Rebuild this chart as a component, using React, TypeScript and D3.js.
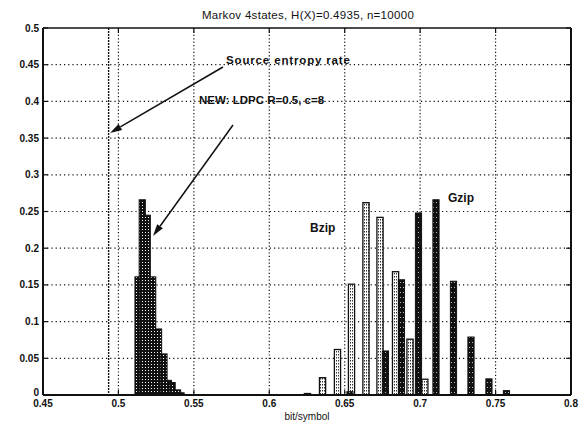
import React from "react";
import * as d3 from "d3";

const W = 582;
const H = 425;
const M = { left: 43, right: 571, top: 28, bottom: 395 };

const title = "Markov 4states, H(X)=0.4935, n=10000";
const xLabel = "bit/symbol";
const xTicks = [0.45, 0.5, 0.55, 0.6, 0.65, 0.7, 0.75, 0.8];
const xTickLabels = ["0.45", "0.5", "0.55", "0.6", "0.65", "0.7", "0.75", "0.8"];
const yTicks = [0, 0.05, 0.1, 0.15, 0.2, 0.25, 0.3, 0.35, 0.4, 0.45, 0.5];
const yTickLabels = ["0", "0.05", "0.1", "0.15", "0.2", "0.25", "0.3", "0.35", "0.4", "0.45", "0.5"];
const entropyRate = 0.4935;

const ldpcX = [0.513, 0.5158, 0.5191, 0.5227, 0.5266, 0.5302, 0.5331, 0.5356, 0.5392, 0.5415];
const ldpcY = [0.161, 0.266, 0.245, 0.161, 0.09, 0.056, 0.02, 0.017, 0.007, 0.003];

const bzipX = [0.6253, 0.6353, 0.6452, 0.6545, 0.6641, 0.6734, 0.6837, 0.6933, 0.7031];
const bzipY = [0.002, 0.0236, 0.062, 0.151, 0.262, 0.242, 0.168, 0.076, 0.0215];

const gzipX = [0.6535, 0.677, 0.6876, 0.6989, 0.7105, 0.7221, 0.7337, 0.7456, 0.7572];
const gzipY = [0.0045, 0.06, 0.157, 0.248, 0.266, 0.155, 0.079, 0.022, 0.006];

const annotations = [
  { text: "Source entropy rate", x: 226, y: 64, fromX: 223, fromY: 67, toX: 110, toY: 133, ls: 0.85 },
  { text: "NEW: LDPC R=0.5, c=8", x: 199, y: 104, fromX: 233, fromY: 125, toX: 153, toY: 236, ls: 0 },
];
const seriesLabels = [
  { text: "Bzip", x: 310, y: 232 },
  { text: "Gzip", x: 448, y: 202 },
];

const font = "'Liberation Sans', Arial, Helvetica, sans-serif";

export default function App() {
  const x = d3.scaleLinear().domain([0.45, 0.8]).range([M.left, M.right]);
  const y = d3.scaleLinear().domain([0, 0.5]).range([M.bottom, M.top]);
  const bw = 0.0041;

  const bars = (
    xs: number[],
    ys: number[],
    fill: string,
    sw: number,
    key: string
  ) =>
    xs.map((v, i) => {
      const x0 = x(v - bw / 2);
      const x1 = x(v + bw / 2);
      const yt = y(ys[i]);
      return (
        <rect
          key={key + i}
          x={x0}
          y={yt}
          width={x1 - x0}
          height={Math.max(0.8, y(0) - yt)}
          fill={fill}
          stroke="#111"
          strokeWidth={sw}
        />
      );
    });

  const arrow = (a: typeof annotations[0], i: number) => {
    const dx = a.toX - a.fromX;
    const dy = a.toY - a.fromY;
    const len = Math.hypot(dx, dy);
    const ux = dx / len;
    const uy = dy / len;
    const hl = 12;
    const hw = 3.5;
    const bx = a.toX - ux * hl;
    const by = a.toY - uy * hl;
    const p1 = [bx - uy * hw, by + ux * hw];
    const p2 = [bx + uy * hw, by - ux * hw];
    return (
      <g key={"ar" + i}>
        <line x1={a.fromX} y1={a.fromY} x2={bx} y2={by} stroke="#111" strokeWidth={1.5} />
        <polygon points={`${a.toX},${a.toY} ${p1[0]},${p1[1]} ${p2[0]},${p2[1]}`} fill="#111" />
        <text
          x={a.x}
          y={a.y}
          fontFamily={font}
          fontSize={11.5}
          fontWeight="bold"
          letterSpacing={a.ls}
          fill="#111"
        >
          {a.text}
        </text>
      </g>
    );
  };

  return (
    <svg
      width={W}
      height={H}
      viewBox={`0 0 ${W} ${H}`}
      style={{ position: "absolute", left: 0, top: 0, background: "#fff" }}
    >
      <defs>
        <pattern id="pLdpc" width="3" height="3" patternUnits="userSpaceOnUse">
          <rect width="3" height="3" fill="#111" />
          <rect x="1" y="1" width="1" height="1" fill="#fff" />
        </pattern>
        <pattern id="pBzip" width="2" height="3" patternUnits="userSpaceOnUse">
          <rect width="2" height="3" fill="#fff" />
          <rect x="0" y="0" width="1" height="1.5" fill="#333" />
        </pattern>
        <pattern id="pGzip" width="3" height="5" patternUnits="userSpaceOnUse">
          <rect width="3" height="5" fill="#111" />
          <rect x="1" y="2" width="1" height="1" fill="#bbb" />
        </pattern>
      </defs>

      {/* grid */}
      {yTicks.slice(1, -1).map((t) => (
        <line
          key={"gy" + t}
          x1={M.left}
          x2={M.right}
          y1={y(t)}
          y2={y(t)}
          stroke="#111"
          strokeWidth={1.2}
          strokeDasharray="1.2,3"
        />
      ))}
      {xTicks.slice(1, -1).map((t) => (
        <line
          key={"gx" + t}
          x1={x(t)}
          x2={x(t)}
          y1={M.top}
          y2={M.bottom}
          stroke="#111"
          strokeWidth={1.2}
          strokeDasharray="1.2,2.2"
        />
      ))}

      {/* source entropy line */}
      <line
        x1={x(entropyRate)}
        x2={x(entropyRate)}
        y1={M.top}
        y2={M.bottom}
        stroke="#111"
        strokeWidth={1.4}
        strokeDasharray="2,1"
      />

      {/* bars */}
      {bars(ldpcX, ldpcY, "url(#pLdpc)", 1, "l")}
      {bars(bzipX, bzipY, "url(#pBzip)", 1.3, "b")}
      {bars(gzipX, gzipY, "url(#pGzip)", 1, "g")}

      {/* ticks */}
      {yTicks.map((t) => (
        <g key={"ty" + t}>
          <line x1={M.left} x2={M.left + 5} y1={y(t)} y2={y(t)} stroke="#111" strokeWidth={1.2} />
          <line x1={M.right} x2={M.right - 5} y1={y(t)} y2={y(t)} stroke="#111" strokeWidth={1.2} />
        </g>
      ))}
      {xTicks.map((t) => (
        <g key={"tx" + t}>
          <line x1={x(t)} x2={x(t)} y1={M.bottom} y2={M.bottom - 5} stroke="#111" strokeWidth={1.2} />
          <line x1={x(t)} x2={x(t)} y1={M.top} y2={M.top + 5} stroke="#111" strokeWidth={1.2} />
        </g>
      ))}

      {/* frame */}
      <line x1={M.left} x2={M.right} y1={M.top} y2={M.top} stroke="#111" strokeWidth={1.5} />
      <line x1={M.left} x2={M.right} y1={M.bottom} y2={M.bottom} stroke="#111" strokeWidth={2} />
      <line x1={M.left} x2={M.left} y1={M.top} y2={M.bottom} stroke="#111" strokeWidth={2} />
      <line x1={M.right} x2={M.right} y1={M.top} y2={M.bottom} stroke="#111" strokeWidth={2} />

      {/* tick labels */}
      {yTicks.map((t, i) => (
        <text
          key={"ly" + t}
          x={M.left - 4}
          y={y(t) + (i === 0 ? 1 : 3.5)}
          textAnchor="end"
          fontFamily={font}
          fontSize={10}
          fontWeight="bold"
          fill="#111"
        >
          {yTickLabels[i]}
        </text>
      ))}
      {xTicks.map((t, i) => (
        <text
          key={"lx" + t}
          x={x(t)}
          y={407}
          textAnchor="middle"
          fontFamily={font}
          fontSize={10}
          fontWeight="bold"
          fill="#111"
        >
          {xTickLabels[i]}
        </text>
      ))}

      {/* title and axis label */}
      <text
        x={308}
        y={19}
        textAnchor="middle"
        fontFamily={font}
        fontSize={11.5}
        letterSpacing={0.3}
        fill="#111"
      >
        {title}
      </text>
      <text x={307} y={420} textAnchor="middle" fontFamily={font} fontSize={10} fill="#111">
        {xLabel}
      </text>

      {/* annotations */}
      {annotations.map(arrow)}
      {seriesLabels.map((s) => (
        <text key={s.text} x={s.x} y={s.y} fontFamily={font} fontSize={12} fontWeight="bold" fill="#111">
          {s.text}
        </text>
      ))}
    </svg>
  );
}
